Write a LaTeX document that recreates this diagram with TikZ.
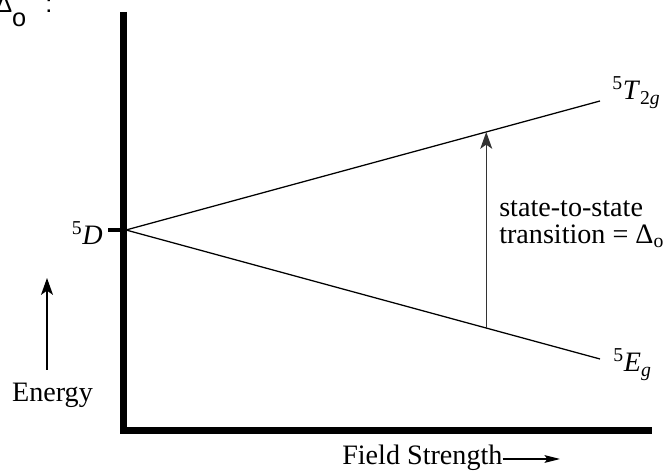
\documentclass[tikz,border=0pt]{standalone}
\usepackage{fontspec}
\setmainfont{Liberation Serif}
\newfontfamily\slidefont{Liberation Sans}
\usetikzlibrary{arrows.meta, positioning, calc}

\begin{document}
\begin{tikzpicture}[x=0.025cm, y=0.025cm, font=\fontsize{20}{19}\selectfont,
    axis/.style={line width=4.6pt},
    level/.style={line width=0.9pt},
    uparrow/.style={-{Stealth[length=12pt, width=8.5pt, inset=3pt]}, line width=0.9pt},
    lbl/.style={inner sep=0pt}]
    \clip (0,0) rectangle (663,472);

    % Axes and the free-ion tick
    \draw[axis] (123.5,460) |- (652,41.5);
    \draw[line width=3.5pt] (108,242) -- (123.5,242);
    \node[lbl, anchor=east] (freelabel) at (103,239) {\textsuperscript{5}\textit{D}};

    % Split levels
    \coordinate (freeion) at (126,242);
    \coordinate (upper) at (600,371);
    \coordinate (lower) at (600,113);
    \draw[level] (freeion) -- (upper);
    \draw[level] (freeion) -- (lower);
    \node[lbl, anchor=base west] (tlabel) at (612,372) {\textsuperscript{5}\textit{T}\textsubscript{2\textit{g}}};
    \node[lbl, anchor=base west] (elabel) at (613,100) {\textsuperscript{5}\textit{E}\textsubscript{\textit{g}}};

    % The transition
    \coordinate (lowhit) at ($(freeion)!0.76!(lower)$);
    \coordinate (uphit) at ($(freeion)!0.76!(upper)$);
    \draw[uparrow, black!80] (lowhit) -- (uphit);
    \node[lbl, anchor=west, align=left] (transition) at (499,247.5) {state-to-state\\transition = Δ\textsubscript{o}};

    % Axis labels
    \node[lbl, anchor=base] (energy) at (52.5,70) {Energy};
    \coordinate (etail) at (47,102);
    \coordinate (ehead) at (47,194);
    \draw[uparrow] (etail) -- (ehead);
    \node[lbl, anchor=base west] (field) at (342,7) {Field Strength};
    \coordinate (fhead) at (560,13);
    \draw[-{Stealth[length=11pt, width=5.5pt, inset=2pt]}, line width=0.9pt] (field.east |- fhead) -- (fhead);

    % Cut-off heading
    \node[lbl, anchor=base west, font=\slidefont\fontsize{18}{20}\selectfont] (heading) at (-5,459) {Δ\raisebox{-0.35cm}{o}\hspace{0.475cm}:};
\end{tikzpicture}
\end{document}
